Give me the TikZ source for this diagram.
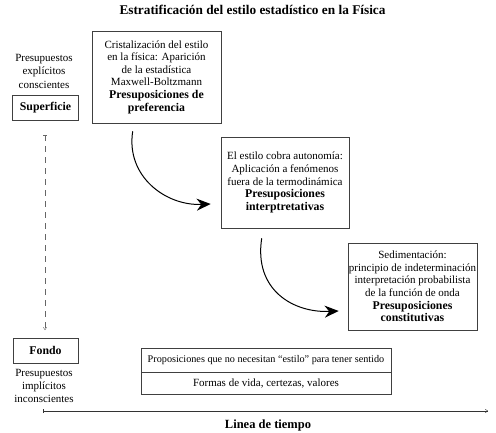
\documentclass[tikz,border=0pt]{standalone}
\usepackage{fontspec}
\setmainfont{Liberation Serif}
\usetikzlibrary{arrows.meta}
\begin{document}
\begin{tikzpicture}[x=1pt,y=-1pt,
  box/.style={draw=black!75,line width=0.6pt,inner sep=0pt},
  txt/.style={align=center,font=\fontsize{11}{12.6}\selectfont},
  bt/.style={font=\fontsize{11.8}{12.6}\selectfont\bfseries},
  curvearrow/.style={line width=1pt,-{Stealth[length=14pt,width=12pt]}},
  thinarrow/.style={line width=0.4pt,draw=black!80,{Bar[width=4pt]}-{To[length=3pt,width=4pt]}}]
\useasboundingbox (0,0) rectangle (496,432);
% title
\node[font=\fontsize{13.3}{15}\selectfont\bfseries] (title) at (252.5,10) {Estratificación del estilo estadístico en la Física};
% left column
\node[txt,font=\fontsize{11}{13.5}\selectfont] (sup) at (44,71) {Presupuestos\\explícitos\\conscientes};
\node[box,minimum width=66pt,minimum height=25pt,bt] (superficie) at (45.5,107.5) {Superficie};
\node[box,minimum width=65pt,minimum height=25pt,bt] (fondo) at (45.5,350.5) {Fondo};
\node[txt,font=\fontsize{11}{12.8}\selectfont] (inf) at (44,386) {Presupuestos\\implícitos\\inconscientes};
\coordinate (dtop) at (45,135);
\coordinate (dbot) at (45,330);
\draw[thinarrow,dashed,dash pattern=on 6pt off 5pt,draw=black!60] (dtop) -- (dbot);
% boxes
\node[box,minimum width=129pt,minimum height=92pt,txt] (b1) at (156.5,77) {Cristalización del estilo\\en la física: Aparición\\de la estadística\\Maxwell-Boltzmann\\{\bfseries\fontsize{11.8}{12.6}\selectfont Presuposiciones de}\\{\bfseries\fontsize{11.8}{12.6}\selectfont preferencia}};
\node[box,minimum width=128pt,minimum height=91pt,txt] (b2) at (285,182.5) {El estilo cobra autonomía:\\Aplicación a fenómenos\\fuera de la termodinámica\\{\bfseries\fontsize{11.8}{12.6}\selectfont Presuposiciones}\\{\bfseries\fontsize{11.8}{12.6}\selectfont interptretativas}};
\node[box,minimum width=129pt,minimum height=87pt,txt] (b3) at (412.5,286.5) {Sedimentación:\\principio de indeterminación\\interpretación probabilista\\de la función de onda\\{\bfseries\fontsize{11.8}{12.6}\selectfont Presuposiciones}\\{\bfseries\fontsize{11.8}{12.6}\selectfont constitutivas}};
% curved arrows
\draw[curvearrow] ([xshift=41pt,yshift=-8pt]b1.south west) .. controls +(-7,45) and +(-45,2) .. ([xshift=-10pt,yshift=-21.5pt]b2.west);
\draw[curvearrow] ([xshift=41pt,yshift=-10pt]b2.south west) .. controls +(-8,52) and +(-45,2) .. ([xshift=-9pt,yshift=-24.5pt]b3.west);
% bottom box
\node[box,minimum width=250pt,minimum height=24pt,txt,font=\fontsize{10.2}{12.6}\selectfont] (p1) at (266,360) {Proposiciones que no necesitan “estilo” para tener sentido};
\node[box,minimum width=250pt,minimum height=22pt,txt,anchor=north] (p2) at (p1.south) {Formas de vida, certezas, valores};
% timeline
\coordinate (tl) at (43,411);
\coordinate (tr) at (488,411);
\draw[thinarrow] (tl) -- (tr);
\node[font=\fontsize{12.5}{14}\selectfont\bfseries] (tiempo) at (268,425) {Linea de tiempo};
\end{tikzpicture}
\end{document}
